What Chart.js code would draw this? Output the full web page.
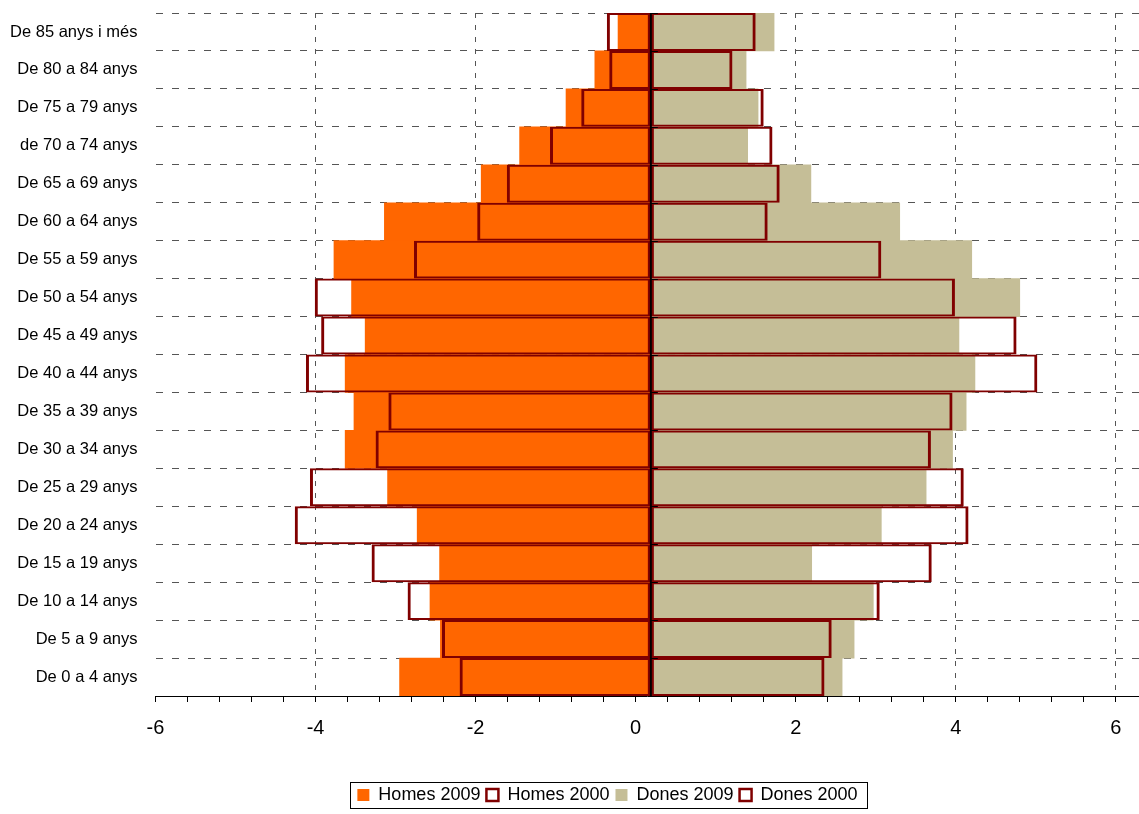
<!DOCTYPE html>
<html>
<head>
<meta charset="utf-8">
<script src="https://cdn.jsdelivr.net/npm/chart.js@4.4.1/dist/chart.umd.min.js"></script>
<style>
html,body{margin:0;padding:0;background:#fff}
#wrap{width:1139px;height:814px;position:relative}
</style>
</head>
<body>
<div id="wrap"><canvas id="pyramid"></canvas></div>
<script>
// age groups, top row first
const ageGroups = [
  "De 85 anys i més", "De 80 a 84 anys", "De 75 a 79 anys", "de 70 a 74 anys",
  "De 65 a 69 anys", "De 60 a 64 anys", "De 55 a 59 anys", "De 50 a 54 anys",
  "De 45 a 49 anys", "De 40 a 44 anys", "De 35 a 39 anys", "De 30 a 34 anys",
  "De 25 a 29 anys", "De 20 a 24 anys", "De 15 a 19 anys", "De 10 a 14 anys",
  "De 5 a 9 anys", "De 0 a 4 anys"
]

const homes2009 = [-0.22, -0.51, -0.87, -1.45, -1.93, -3.14, -3.77, -3.55, -3.38, -3.63, -3.52, -3.63, -3.10, -2.73, -2.45, -2.57, -2.44, -2.95]
const homes2000 = [-0.36, -0.33, -0.68, -1.07, -1.61, -1.98, -2.77, -4.01, -3.93, -4.12, -3.09, -3.25, -4.07, -4.26, -3.30, -2.85, -2.42, -2.20]
const dones2009 = [1.73, 1.38, 1.53, 1.40, 2.19, 3.30, 4.20, 4.80, 4.04, 4.24, 4.13, 3.96, 3.63, 3.07, 2.20, 2.97, 2.73, 2.58]
const dones2000 = [1.50, 1.21, 1.60, 1.71, 1.80, 1.65, 3.07, 3.99, 4.76, 5.02, 3.96, 3.69, 4.10, 4.16, 3.70, 3.05, 2.45, 2.36]

// the value axis crosses a little right of 0, bars start there
const axisCross = 0.19
const xMin = -6
const xMax = 6.29
const xStep = 0.4

const isMajor = v => Math.abs(v / 2 - Math.round(v / 2)) < 1e-6

Chart.defaults.font.family = "'Liberation Sans', Arial, sans-serif"
Chart.defaults.color = '#000'

const zeroAxis = {
  id: 'zeroAxis',
  afterDatasetsDraw(chart) {
    const {ctx, chartArea, scales: {x, y}} = chart
    const px = x.getPixelForValue(axisCross)
    ctx.save()
    ctx.strokeStyle = '#000'
    ctx.lineWidth = 2
    ctx.beginPath()
    ctx.moveTo(px, chartArea.top)
    ctx.lineTo(px, chartArea.bottom)
    ctx.stroke()
    ctx.lineWidth = 1
    for (let i = 0; i <= ageGroups.length; i++) {
      const py = Math.round(y.getPixelForValue(i - 0.5)) + 0.5
      ctx.beginPath()
      ctx.moveTo(px, py)
      ctx.lineTo(px + 7, py)
      ctx.stroke()
    }
    ctx.restore()
  }
}

// legend sits a bit right of the page centre, with a thin frame round it
const legendFrame = {
  id: 'legendFrame',
  afterLayout(chart) {
    chart.legend.left += 38
    chart.legend.right += 38
  },
  afterDraw(chart) {
    const boxes = chart.legend.legendHitBoxes
    if (!boxes || !boxes.length) return
    let l = Infinity, r = -Infinity, t = Infinity, b = -Infinity
    boxes.forEach(h => {
      l = Math.min(l, h.left)
      r = Math.max(r, h.left + h.width)
      t = Math.min(t, h.top)
      b = Math.max(b, h.top + h.height)
    })
    const ctx = chart.ctx
    ctx.save()
    ctx.strokeStyle = '#000'
    ctx.lineWidth = 1
    ctx.strokeRect(Math.round(l - 7) + 0.5, Math.round(t - 4) + 0.5, Math.round(r - l + 17), Math.round(b - t + 8))
    ctx.restore()
  }
}

const filled = {
  barPercentage: 1,
  categoryPercentage: 1,
  grouped: false,
  base: axisCross,
  borderWidth: 0,
  order: 1
}

const outlined = {
  barPercentage: 1,
  categoryPercentage: 1,
  grouped: false,
  base: axisCross,
  backgroundColor: 'rgba(255,255,255,0)',
  borderColor: '#800000',
  borderWidth: {top: 2, bottom: 2, left: 3, right: 3},
  borderSkipped: false,
  inflateAmount: 0,
  order: 0
}

new Chart(document.getElementById('pyramid'), {
  type: 'bar',
  data: {
    labels: ageGroups,
    datasets: [
      {...filled, label: 'Homes 2009', data: homes2009, backgroundColor: '#FF6600'},
      {...outlined, label: 'Homes 2000', data: homes2000},
      {...filled, label: 'Dones 2009', data: dones2009, backgroundColor: '#C5BE97'},
      {...outlined, label: 'Dones 2000', data: dones2000}
    ]
  },
  options: {
    indexAxis: 'y',
    responsive: true,
    maintainAspectRatio: false,
    animation: false,
    layout: {padding: {top: 13, right: 0, bottom: 0, left: 0}},
    scales: {
      x: {
        min: xMin,
        max: xMax,
        afterFit(scale) { scale.height = 84 },
        ticks: {
          stepSize: xStep,
          includeBounds: false,
          autoSkip: false,
          maxRotation: 0,
          padding: 14,
          font: {size: 20},
          callback: v => isMajor(v) ? String(Math.round(v)) : ''
        },
        grid: {
          color: ctx => (ctx.tick && isMajor(ctx.tick.value) && ctx.tick.value > xMin + 0.1) ? '#555' : 'rgba(0,0,0,0)',
          tickColor: '#000',
          tickLength: 6,
          tickBorderDash: [],
          lineWidth: 1
        },
        border: {display: true, color: '#000', width: 1, dash: [5, 7]}
      },
      y: {
        afterFit(scale) {
          scale.width = 155.5
          scale.paddingTop = 0
          scale.paddingBottom = 0
        },
        ticks: {padding: 18, font: {size: 16.5}},
        grid: {
          offset: true,
          drawTicks: false,
          color: '#555',
          lineWidth: 1
        },
        border: {display: false, dash: [7, 9]}
      }
    },
    plugins: {
      legend: {
        position: 'bottom',
        labels: {
          boxWidth: 12,
          boxHeight: 12,
          padding: 6,
          font: {size: 18},
          color: '#000',
          sort: (a, b) => a.datasetIndex - b.datasetIndex
        }
      },
      tooltip: {enabled: false}
    }
  },
  plugins: [zeroAxis, legendFrame]
})
</script>
</body>
</html>
